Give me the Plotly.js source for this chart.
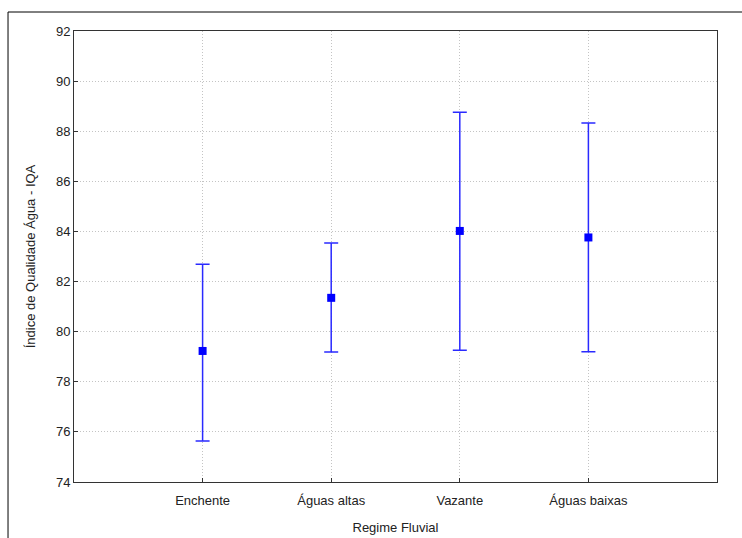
<!DOCTYPE html>
<html>
<head>
<meta charset="utf-8">
<script src="https://cdn.plot.ly/plotly-3.0.1.min.js"></script>
<style>
html,body{margin:0;padding:0;background:#fff;}
#chart{width:742px;height:538px;}
</style>
</head>
<body>
<div id="chart"></div>
<script>
const categories = ["Enchente", "Águas altas", "Vazante", "Águas baixas"];
const means = [79.23, 81.35, 84.02, 83.76];
const upper = [82.69, 83.54, 88.76, 88.33];
const lower = [75.64, 79.19, 79.26, 79.20];
const yTicks = [74, 76, 78, 80, 82, 84, 86, 88, 90, 92];

const xIdx = categories.map((c, i) => i);
const errPlus = upper.map((u, i) => u - means[i]);
const errMinus = lower.map((l, i) => means[i] - l);

const blue = "#0000ff";
const trace = {
  type: "scatter",
  mode: "markers",
  x: xIdx,
  y: means,
  marker: {symbol: "square", size: 8, color: blue},
  error_y: {
    type: "data",
    symmetric: false,
    array: errPlus,
    arrayminus: errMinus,
    color: "#2a2aff",
    thickness: 1.5,
    width: 7
  },
  showlegend: false,
  hoverinfo: "y"
};

const font = {family: "Liberation Sans, Arial, sans-serif", color: "#222"};

const layout = {
  width: 742,
  height: 538,
  margin: {l: 74, r: 25, t: 31, b: 56},
  paper_bgcolor: "#fff",
  plot_bgcolor: "#fff",
  font: font,
  showlegend: false,
  xaxis: {
    range: [-1, 4],
    tickmode: "array",
    tickvals: xIdx,
    ticktext: categories,
    showgrid: true,
    gridcolor: "#c4c4c4",
    griddash: "1px,2px",
    gridwidth: 1,
    zeroline: false,
    showline: true,
    linecolor: "#333",
    linewidth: 1,
    mirror: true,
    ticks: "inside",
    ticklen: 4,
    tickcolor: "#333",
    ticklabelstandoff: 6,
    automargin: false,
    tickfont: {family: font.family, size: 13, color: "#222"},
    title: {text: "Regime Fluvial", font: {family: font.family, size: 13, color: "#222"}, standoff: 16}
  },
  yaxis: {
    range: [74, 92],
    tickmode: "array",
    tickvals: yTicks,
    ticktext: yTicks.map(String),
    showgrid: true,
    gridcolor: "#c4c4c4",
    griddash: "1px,2px",
    gridwidth: 1,
    zeroline: false,
    showline: true,
    linecolor: "#333",
    linewidth: 1,
    mirror: true,
    ticks: "inside",
    ticklen: 4,
    tickcolor: "#333",
    automargin: false,
    tickfont: {family: font.family, size: 13, color: "#222"},
    title: {text: "Índice de Qualidade Água - IQA", font: {family: font.family, size: 13, color: "#222"}, standoff: 17}
  },
  shapes: [{
    type: "rect",
    xref: "paper", yref: "paper",
    x0: -0.1026, x1: 1.06,
    y0: -0.15, y1: 1.0421,
    line: {color: "#000", width: 1},
    fillcolor: "rgba(0,0,0,0)",
    layer: "below"
  }]
};

Plotly.newPlot("chart", [trace], layout, {displayModeBar: false, staticPlot: true});
</script>
</body>
</html>
